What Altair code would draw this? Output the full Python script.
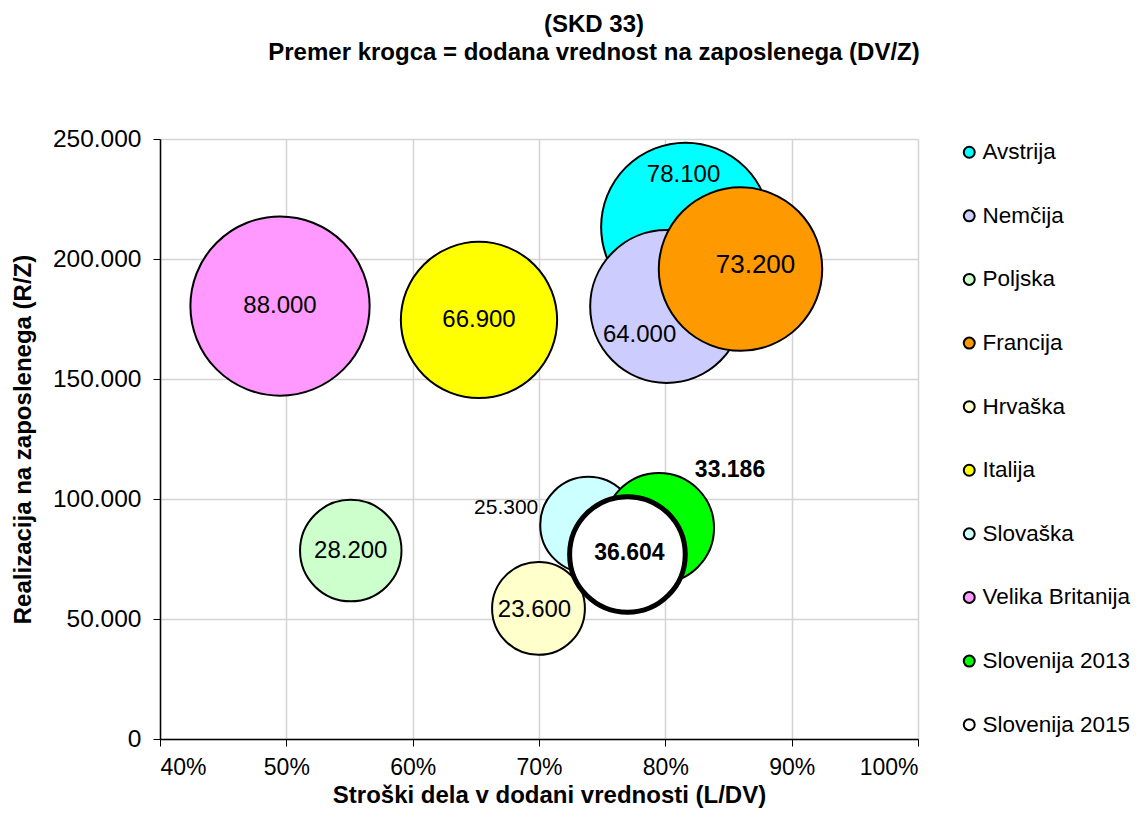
import altair as alt
import pandas as pd

# ---- data ----
names = ["Avstrija", "Nemčija", "Poljska", "Francija", "Hrvaška", "Italija",
         "Slovaška", "Velika Britanija", "Slovenija 2013", "Slovenija 2015"]
ldv = [0.816, 0.801, 0.551, 0.8595, 0.6996, 0.6525, 0.739, 0.495, 0.795, 0.770]
rz = [213300, 180200, 78500, 195800, 54400, 174600, 89200, 180400, 87900, 76900]
dvz = [78100, 64000, 28200, 73200, 23600, 66900, 25300, 88000, 33186, 36604]
colors = ["#00FFFF", "#CCCCFF", "#CCFFCC", "#FF9900", "#FFFFCC", "#FFFF00",
          "#CCFFFF", "#FF99FF", "#00FF00", "#FFFFFF"]
x_ticks = [0.4, 0.5, 0.6, 0.7, 0.8, 0.9, 1.0]
y_ticks = [0, 50000, 100000, 150000, 200000, 250000]

title_lines = ["(SKD 33)", "Premer krogca = dodana vrednost na zaposlenega (DV/Z)"]
x_title = "Stroški dela v dodani vrednosti (L/DV)"
y_title = "Realizacija na zaposlenega (R/Z)"

FONT = "Liberation Sans, Arial, sans-serif"

df = pd.DataFrame({"name": names, "ldv": ldv, "rz": rz, "dvz": dvz,
                   "idx": list(range(len(names)))})
df["label"] = [f"{v:,}".replace(",", ".") for v in dvz]

x_enc = alt.X("ldv:Q",
              scale=alt.Scale(domain=[0.4, 1.0], nice=False, zero=False),
              axis=alt.Axis(values=x_ticks, format=".0%", title=x_title,
                            tickSize=7, labelPadding=10, titlePadding=4,
                            titleX=389, labelFontSize=23))
y_enc = alt.Y("rz:Q",
              scale=alt.Scale(domain=[0, 250000], nice=False),
              axis=alt.Axis(values=y_ticks, title=y_title,
                            labelExpr="replace(format(datum.value, ','), ',', '.')",
                            tickSize=7, labelPadding=12, titlePadding=17,
                            labelFontSize=24.5))

base = alt.Chart(df).encode(x=x_enc, y=y_enc)

bubbles = base.mark_circle(stroke="black", opacity=1).encode(
    size=alt.Size("dvz:Q", scale=alt.Scale(domain=[0, 100000], range=[0, 36500], zero=True),
                  legend=None),
    fill=alt.Fill("name:N", scale=alt.Scale(domain=names, range=colors),
                  legend=alt.Legend(title=None)),
    strokeWidth=alt.condition(alt.datum.name == "Slovenija 2015",
                              alt.value(5), alt.value(2)),
    order=alt.Order("idx:Q"),
)


def lab(sel, dx=0, dy=0, size=24, weight="normal", align="center"):
    return base.mark_text(dx=dx, dy=dy, fontSize=size, fontWeight=weight, align=align,
                          baseline="middle", font=FONT, color="black").encode(
        text="label:N").transform_filter(alt.FieldOneOfPredicate(field="name", oneOf=sel))


labels = [
    lab(["Poljska", "Italija", "Velika Britanija"]),
    lab(["Avstrija"], dx=-2, dy=-52),
    lab(["Nemčija"], dx=-27, dy=28),
    lab(["Francija"], dx=15, dy=-4, size=26),
    lab(["Hrvaška"], dx=-4, dy=2),
    lab(["Slovaška"], dx=-50, dy=-17, size=21, align="right"),
    lab(["Slovenija 2013"], dx=71, dy=-58, size=23, weight="bold"),
    lab(["Slovenija 2015"], dx=2, dy=-1, size=23, weight="bold"),
]

chart = alt.layer(bubbles, *labels).properties(
    width=758, height=600,
    autosize="none",
    padding={"left": 152, "top": 131, "right": 215, "bottom": 84},
    title=alt.TitleParams(title_lines, fontSize=24, font=FONT, fontWeight="bold",
                          anchor="middle", dx=55, offset=61, lineHeight=28, color="black"),
).configure_view(stroke=None).configure_axis(
    labelFont=FONT, labelColor="black",
    titleFont=FONT, titleFontSize=24, titleFontWeight="bold", titleColor="black",
    domainColor="black", domainWidth=1.5, tickColor="black", tickWidth=1,
    gridColor="#d4d4d4", gridWidth=1.5,
).configure_legend(
    orient="right", offset=38, padding=2,
    labelFont=FONT, labelFontSize=22.5, labelColor="black",
    symbolSize=120, symbolStrokeColor="black", symbolStrokeWidth=2, symbolType="circle",
    rowPadding=40.6, labelOffset=2, labelLimit=300,
)

chart.save("out.html", embed_options={"renderer": "svg", "actions": False})
